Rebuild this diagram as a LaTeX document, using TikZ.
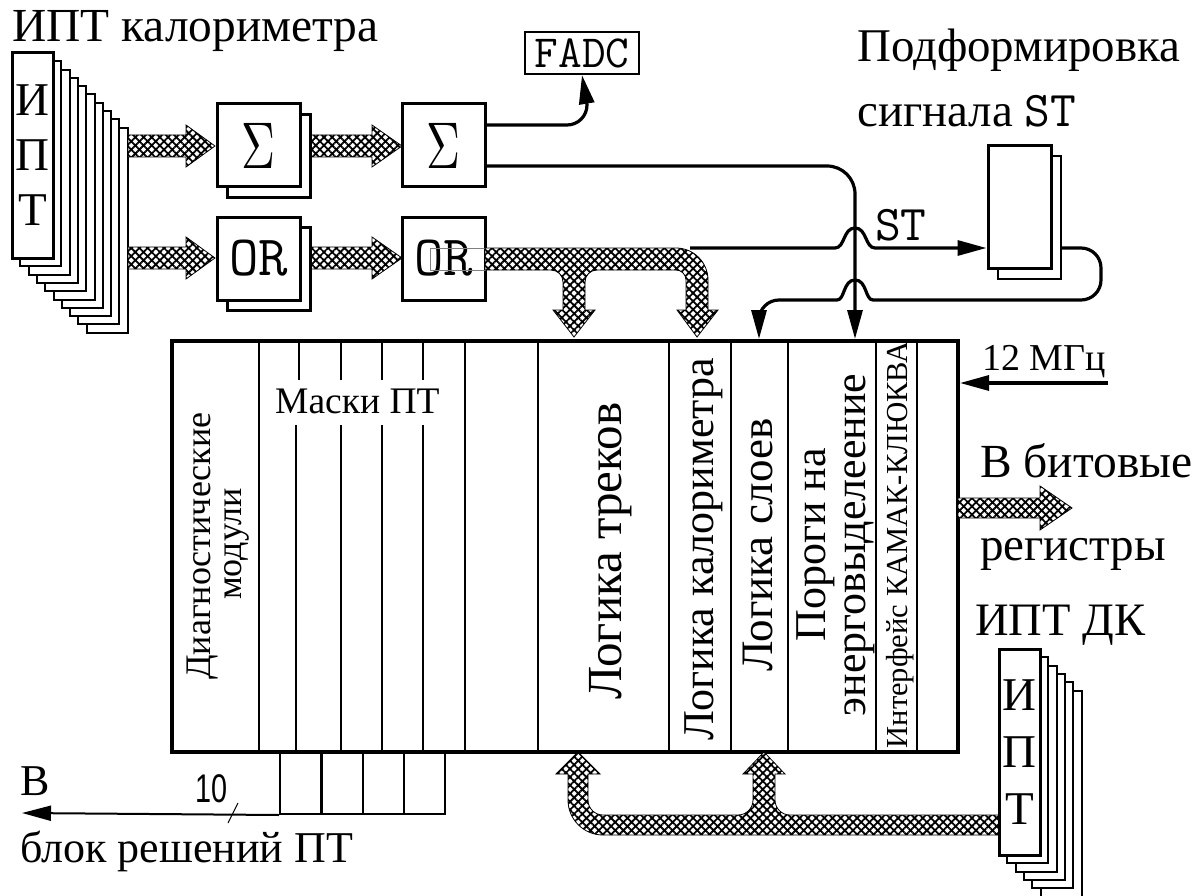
\documentclass[tikz,border=0pt]{standalone}
\usepackage{fontspec}
\setmainfont{Liberation Serif}
\newfontfamily\narrowsans{Liberation Sans}
\usepackage{graphicx}
\usetikzlibrary{arrows.meta,patterns.meta,calc}
\newcommand{\myfs}[2]{\fontsize{#1}{#2}\selectfont}
\newcommand{\bigsigma}{\scalebox{4.7}[6.6]{$\Sigma$}}
\begin{document}
\begin{tikzpicture}[x=1pt,y=-1pt,
  sig/.style={line width=3.2pt},
  tipA/.style={-{Triangle[length=29pt,width=15pt]}},
  hatch/.style={draw, line width=0.8pt, preaction={fill=white}, pattern={Hatch[angle=45,distance=5.8pt,line width=1.8pt]}},
  blk/.style={draw, line width=3pt, fill=white, inner sep=0pt, minimum width=83pt, minimum height=83pt},
  col/.style={line width=2.4pt},
  txt/.style={inner sep=0pt, anchor=base west},
  rot/.style={inner sep=0pt, anchor=base, rotate=90},
  stackback/.style={line width=2pt, fill=white},
  stackfront/.style={draw, line width=3pt, fill=white, inner sep=0pt, align=center}
]
\fill[white] (0,0) rectangle (1204,896);
\useasboundingbox (0,0) rectangle (1204,896);

% ---------- left stack ----------
\foreach \i in {9,8,...,1} {\draw[stackback] ({12+8.3*\i},{53+8.3*\i}) rectangle ++(41,205);}
\node[stackfront, minimum width=41pt, minimum height=205pt, font={\myfs{47}{55}}] (iptA) at (32.5,155.5) {И\\П\\Т};
\node[txt, font={\myfs{47.4}{47}}] (tA) at (12,42) {ИПТ калориметра};

% ---------- hatched arrows (left) ----------
\draw[hatch] (128,135) -- (186,135) -- (186,125) -- (215,146) -- (186,167) -- (186,157) -- (128,157) -- cycle;
\draw[hatch] (310,135) -- (372,135) -- (372,125) -- (402,146) -- (372,167) -- (372,157) -- (310,157) -- cycle;
\draw[hatch] (128,247) -- (186,247) -- (186,237) -- (215,258) -- (186,279) -- (186,269) -- (128,269) -- cycle;
\draw[hatch] (310,247) -- (372,247) -- (372,237) -- (402,258) -- (372,279) -- (372,269) -- (310,269) -- cycle;

% ---------- sum / or boxes ----------
\node[blk] (s1b) at (269,156) {};
\node[blk] (s1) at (258.5,145.5) {\bigsigma};
\node[blk] (o1b) at (269,269) {};
\node[blk, font={\ttfamily\myfs{57}{57}}] (o1) at (258.5,258.5) {OR};
\node[blk] (s2) at (443.5,145.5) {\bigsigma};
\node[blk, font={\ttfamily\myfs{57}{57}}] (o2) at (443.5,258.5) {OR};

% ---------- FADC ----------
\node[draw, line width=2pt, minimum width=114pt, minimum height=42pt, inner sep=0pt, font={\ttfamily\myfs{46}{46}}] (fadc) at (582,53) {FADC};

% ---------- ST shaper ----------
\node[draw, line width=2pt, fill=white, minimum width=63pt, minimum height=123pt, inner sep=0pt] (stb) at (1029.5,217.5) {};
\node[draw, line width=3pt, fill=white, minimum width=63pt, minimum height=122pt, inner sep=0pt] (st) at (1019.5,207) {};
\node[txt, font={\myfs{46.9}{47}}] (tS1) at (857,62) {Подформировка};
\node[txt, font={\myfs{46.9}{47}}] (tS2) at (857,127) {сигнала {\ttfamily\myfs{50}{50}ST}};

% ---------- main box ----------
\node[draw, line width=4pt, minimum width=786pt, minimum height=411pt, inner sep=0pt] (main) at (565,546.5) {};
\foreach \x in {259,465,538,669,731,788,876,917} {\draw[col] (\x,343) -- (\x,750);}
\foreach \x in {341,382,423} {\draw[col] (\x,343) -- (\x,380); \draw[col] (\x,425) -- (\x,750);}
\draw[col] (299,343) -- (299,380);
\draw[col] (296,425) -- (296,750);
\node[txt, font={\myfs{37.5}{37}}] (tMask) at (275,413) {Маски ПТ};

% rotated labels
\node[rot, font={\myfs{36}{36}}] (tD1) at (210,546) {Диагностические};
\node[rot, font={\myfs{36}{36}}] (tD2) at (241,544) {модули};
\node[rot, font={\myfs{49}{49}}] (tL1) at (621,551) {Логика треков};
\node[rot, font={\myfs{44}{44}}] (tL2) at (713,549) {Логика калориметра};
\node[rot, font={\myfs{45}{45}}] (tL3) at (772,545) {Логика слоев};
\node[rot, font={\myfs{44}{44}}] (tP1) at (825,545) {Пороги на};
\node[rot, font={\myfs{44}{44}}] (tP2) at (865,545) {энерговыделеение};
\node[rot, font={\myfs{30.5}{30}}] (tI) at (907,545) {Интерфейс КАМАК-КЛЮКВА};

% small mask output boxes
\foreach \n/\x in {1/279,2/321,3/362,4/403} {
  \node[draw, line width=2pt, minimum width=41pt, minimum height=61pt, inner sep=0pt, anchor=north west] (m\n) at (\x,752) {};
}

% ---------- upper hatched bus (OR -> logic) ----------
\draw[line width=0.8pt, gray] (430,248) rectangle (485,270);
\draw[hatch] (485,248) -- (676,248) arc[start angle=270,end angle=360,radius=32] -- (708,310) -- (718,310) -- (697,337) -- (677,310) -- (686,310) -- (686,280) arc[start angle=0,end angle=-90,radius=10] -- (597,270) arc[start angle=270,end angle=180,radius=12] -- (585,310) -- (595,310) -- (574,337) -- (553,310) -- (563,310) -- (563,282) arc[start angle=0,end angle=-90,radius=12] -- (485,270) -- cycle;

% ---------- lower hatched bus (IPT DK -> logic) ----------
\draw[hatch] (999,815) -- (790,815) arc[start angle=90,end angle=180,radius=15] -- (775,774) -- (785,774) -- (764,752) -- (743,774) -- (753,774) -- (753,800) arc[start angle=0,end angle=90,radius=15] -- (603,815) arc[start angle=90,end angle=180,radius=15] -- (588,774) -- (600,774) -- (578,752) -- (556,774) -- (568,774) -- (568,800) arc[start angle=180,end angle=90,radius=35] -- (999,835) -- cycle;

% ---------- bit registers arrow ----------
\draw[hatch] (958,498) -- (1040,498) -- (1040,486) -- (1072,508) -- (1040,530) -- (1040,518) -- (958,518) -- cycle;
\node[txt, font={\myfs{47.5}{47}}] (tB1) at (980,477) {В битовые};
\node[txt, font={\myfs{47}{47}}] (tB2) at (980,560) {регистры};

% ---------- IPT DK stack ----------
\foreach \i in {5,4,...,1} {\draw[stackback] ({999+8.3*\i},{649+8.3*\i}) rectangle ++(41,206);}
\node[stackfront, minimum width=41pt, minimum height=206pt, font={\myfs{47}{57}}] (iptB) at (1019.5,752) {И\\П\\Т};
\node[txt, font={\myfs{46.5}{46}}] (tK) at (975,635) {ИПТ ДК};

% ---------- signal lines ----------
\coordinate (fa) at ($(s2.east)+(0,-20.5)$);
\coordinate (fb) at ($(s2.east)+(0,20.5)$);
\draw[sig, tipA] (fa) -- (567,125) arc[start angle=90,end angle=0,radius=20] -- (fadc.south);
\draw[sig, tipA] (fb) -- (827,166) arc[start angle=270,end angle=360,radius=28] -- (855,339);
\coordinate (stA) at (690,248);
\draw[sig, tipA] (stA) -- (835,248) .. controls (845,248) and (843,228) .. (855,228) .. controls (867,228) and (865,248) .. (875,248) -- (st.west |- stA);
\node[txt, font={\ttfamily\myfs{50}{50}}] (tST) at (875,240) {ST};
\draw[sig, tipA] (stb.east |- stA) -- (1081,248) arc[start angle=270,end angle=360,radius=20] -- (1101,280) arc[start angle=0,end angle=90,radius=20] -- (873,300) .. controls (865,300) and (867,280) .. (855,280) .. controls (843,280) and (845,300) .. (837,300) -- (779,300) arc[start angle=270,end angle=180,radius=20] -- (759,339);

% 12 MHz
\coordinate (clk) at (1108,383);
\draw[sig, tipA] (clk) -- (main.east |- clk);
\node[txt, font={\myfs{38}{38}}] (tC) at (982,370) {12 МГц};

% output to decision block
\coordinate (bout) at (22,813);
\draw[line width=2pt, tipA] (m1.south west) -- (bout);
\draw[line width=1pt] (238,803) -- (228,823);
\node[txt, font={\narrowsans\myfs{40}{40}}] (t10) at (195,802) {\scalebox{0.72}[1]{10}};
\node[txt, font={\myfs{44}{44}}] (tV) at (20,795) {В};
\node[txt, font={\myfs{44}{44}}] (tBl) at (20,862) {блок решений ПТ};
\end{tikzpicture}
\end{document}
